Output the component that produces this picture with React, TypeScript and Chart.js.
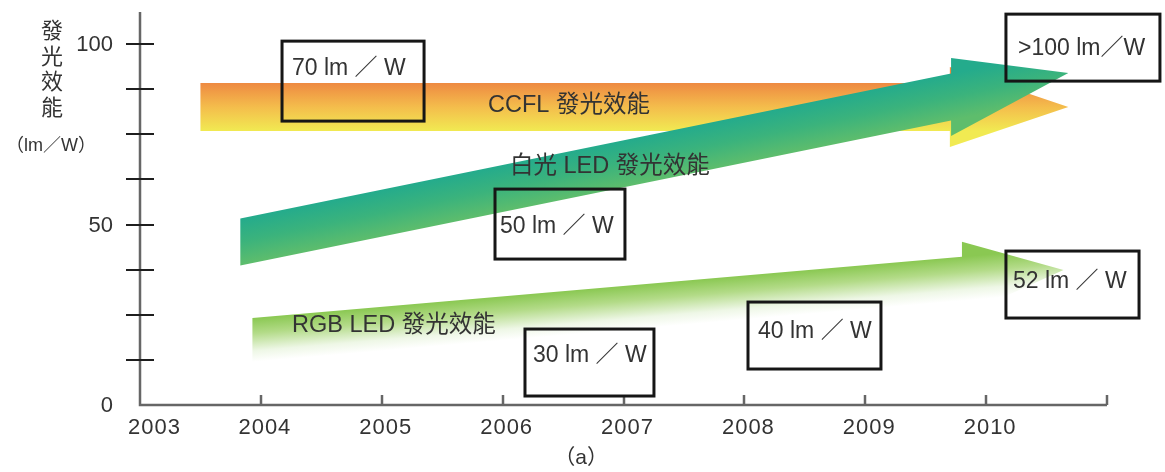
import { useEffect, useRef } from 'react';
import { Chart, registerables } from 'chart.js';

Chart.register(...registerables);

// Horizontal axis: years
const years = [2003, 2004, 2005, 2006, 2007, 2008, 2009, 2010, 2011];
const yearLabels = ['2003', '2004', '2005', '2006', '2007', '2008', '2009', '2010'];

// Vertical axis: luminous efficacy (lm/W)
const yLabelValues = [0, 50, 100];
const yTickValues = [12.5, 25, 37.5, 50, 62.5, 75, 87.5, 100];
const yTitleChars = ['發', '光', '效', '能'];
const yUnit = '（lm／W）';

// Trend arrows (CCFL, white LED, RGB LED)
const seriesNames = ['CCFL 發光效能', '白光 LED 發光效能', 'RGB LED 發光效能'];
const arrowStartYear = [2003.5, 2003.83, 2003.93];
const arrowTipYear = [2010.68, 2010.68, 2010.64];
const arrowHeadYear = [2009.7, 2009.71, 2009.8];
const arrowStartValue = [82.55, 45.15, 18.0];
const arrowTipValue = [82.55, 91.97, 37.4];

// Milestone call-outs (lm/W)
const milestoneText = ['70 lm ／ W', '50 lm ／ W', '30 lm ／ W', '40 lm ／ W', '52 lm ／ W', '>100 lm／W'];

// Arrow body thickness, as half-height in axis units
const arrowShaftHalf = [6.65, 6.5, 6.1];
const arrowHeadHalf = [11.08, 10.8, 10.25];
const arrowOrder = [3, 1, 2];
const arrowStops: [number, string][][] = [
  [[0, '#ee8a42'], [0.5, '#f4bd4c'], [1, '#f1ea52']],
  [[0, '#24ab8c'], [0.5, '#3bb37c'], [1, '#5ebd6c']],
  [[0, '#8ac852'], [0.35, '#b3db88'], [0.75, '#eef7e6'], [1, '#ffffff']],
];

// Call-out frames and label anchors, in axis units
const boxLeft = [2004.175, 2005.937, 2006.185, 2008.03, 2010.164, 2010.164];
const boxRight = [2005.35, 2007.012, 2007.252, 2009.13, 2011.265, 2011.438];
const boxTop = [100.83, 59.83, 21.05, 28.53, 42.66, 108.31];
const boxBottom = [78.67, 40.44, 2.49, 9.97, 24.1, 89.75];
const boxTextYear = [2004.257, 2005.978, 2006.251, 2008.113, 2010.222, 2010.264];
const boxTextValue = [93.35, 49.72, 13.99, 20.64, 34.35, 99.03];

// Series name anchors
const nameYear = [2005.879, 2006.061, 2004.257];
const nameValue = [83.38, 66.48, 22.3];

const FONT = '"Liberation Sans", "Noto Sans CJK TC", sans-serif';
const TEXT = '#333333';
const AXIS = '#666666';

function arrowPolygon(i: number) {
  const x0 = arrowStartYear[i];
  const x1 = arrowTipYear[i];
  const xb = arrowHeadYear[i];
  const v0 = arrowStartValue[i];
  const v1 = arrowTipValue[i];
  const cb = v0 + ((v1 - v0) * (xb - x0)) / (x1 - x0);
  const s = arrowShaftHalf[i];
  const h = arrowHeadHalf[i];
  return [
    { x: x0, y: v0 + s },
    { x: xb, y: cb + s },
    { x: xb, y: cb + h },
    { x: x1, y: v1 },
    { x: xb, y: cb - h },
    { x: xb, y: cb - s },
    { x: x0, y: v0 - s },
    { x: x0, y: v0 + s },
  ];
}

function arrowFill(chart: Chart, i: number) {
  const xs: any = chart.scales.x;
  const ys: any = chart.scales.y;
  if (!xs || !ys || !chart.chartArea) return arrowStops[i][0][1];
  const px0 = xs.getPixelForValue(arrowStartYear[i]);
  const py0 = ys.getPixelForValue(arrowStartValue[i]);
  const px1 = xs.getPixelForValue(arrowTipYear[i]);
  const py1 = ys.getPixelForValue(arrowTipValue[i]);
  const dx = px1 - px0;
  const dy = py1 - py0;
  const len = Math.hypot(dx, dy);
  const nx = -dy / len;
  const ny = dx / len;
  const mx = (px0 + px1) / 2;
  const my = (py0 + py1) / 2;
  const unit = ys.getPixelForValue(0) - ys.getPixelForValue(1);
  const half = (arrowShaftHalf[i] * unit * dx) / len;
  const g = chart.ctx.createLinearGradient(mx - nx * half, my - ny * half, mx + nx * half, my + ny * half);
  arrowStops[i].forEach(([o, c]) => g.addColorStop(o, c));
  return g;
}

const overlayPlugin = {
  id: 'efficacyOverlay',
  afterDraw(chart: Chart) {
    const ctx = chart.ctx;
    const xs: any = chart.scales.x;
    const ys: any = chart.scales.y;
    const X = (v: number) => xs.getPixelForValue(v);
    const Y = (v: number) => ys.getPixelForValue(v);
    const x0 = X(years[0]);
    const xEnd = X(years[years.length - 1]);
    const y0 = Y(0);
    const yTop = Y(ys.max);

    ctx.save();
    ctx.lineCap = 'butt';

    // axes
    ctx.strokeStyle = AXIS;
    ctx.lineWidth = 2.5;
    ctx.beginPath();
    ctx.moveTo(x0, yTop);
    ctx.lineTo(x0, y0);
    ctx.lineTo(xEnd, y0);
    ctx.stroke();

    // x tick marks
    years.slice(1).forEach((yr) => {
      const px = Math.round(X(yr));
      ctx.beginPath();
      ctx.moveTo(px, y0);
      ctx.lineTo(px, y0 - 10);
      ctx.stroke();
    });

    // y tick marks crossing the axis
    ctx.strokeStyle = '#1e1e1e';
    ctx.lineWidth = 2;
    yTickValues.forEach((v) => {
      const py = Math.round(Y(v));
      ctx.beginPath();
      ctx.moveTo(x0 - 14, py);
      ctx.lineTo(x0 + 14, py);
      ctx.stroke();
    });

    // y tick labels
    ctx.fillStyle = TEXT;
    ctx.font = `22px ${FONT}`;
    ctx.textAlign = 'right';
    ctx.textBaseline = 'middle';
    yLabelValues.forEach((v) => {
      ctx.fillText(String(v), x0 - 27, Y(v) + 1);
    });

    // x tick labels
    (ctx as any).letterSpacing = '1px';
    yearLabels.forEach((lab, i) => {
      const px = X(years[i]);
      if (i === 0) {
        ctx.textAlign = 'left';
        ctx.fillText(lab, px - 12, y0 + 23);
      } else {
        ctx.textAlign = 'center';
        ctx.fillText(lab, px + 4, y0 + 23);
      }
    });
    (ctx as any).letterSpacing = '0px';

    // y axis title
    ctx.textAlign = 'center';
    ctx.font = `22px ${FONT}`;
    yTitleChars.forEach((ch, i) => {
      ctx.fillText(ch, 52, 32 + i * 25.7);
    });
    ctx.font = `18px ${FONT}`;
    ctx.fillText(yUnit, 51, 146);

    // panel caption
    ctx.font = `21px ${FONT}`;
    ctx.fillText('（a）', X(2006.65), y0 + 53);

    // call-out frames
    ctx.strokeStyle = '#161616';
    ctx.lineWidth = 3;
    boxLeft.forEach((l, i) => {
      const left = X(l);
      const right = X(boxRight[i]);
      const top = Y(boxTop[i]);
      const bottom = Y(boxBottom[i]);
      ctx.strokeRect(left, top, right - left, bottom - top);
    });

    // call-out text
    ctx.fillStyle = TEXT;
    ctx.font = `23px ${FONT}`;
    ctx.textAlign = 'left';
    milestoneText.forEach((t, i) => {
      ctx.fillText(t, X(boxTextYear[i]), Y(boxTextValue[i]) + 1);
    });

    // series names
    ctx.font = `23.5px ${FONT}`;
    seriesNames.forEach((t, i) => {
      ctx.fillText(t, X(nameYear[i]), Y(nameValue[i]) + 1);
    });

    ctx.restore();
  },
};

export default function App() {
  const canvasRef = useRef<HTMLCanvasElement | null>(null);

  useEffect(() => {
    const canvas = canvasRef.current;
    if (!canvas) return;
    const chart = new Chart(canvas, {
      type: 'scatter',
      data: {
        datasets: seriesNames.map((name, i) => ({
          label: name,
          data: arrowPolygon(i),
          showLine: true,
          fill: 'shape',
          tension: 0,
          borderWidth: 0,
          borderColor: 'rgba(0,0,0,0)',
          pointRadius: 0,
          pointHoverRadius: 0,
          order: arrowOrder[i],
          backgroundColor: (c: any) => arrowFill(c.chart, i),
        })),
      },
      options: {
        animation: false,
        responsive: false,
        events: [],
        layout: { padding: { left: 140, right: 58, top: 12, bottom: 67 } },
        scales: {
          x: { type: 'linear', min: 2003, max: 2011, display: false },
          y: { type: 'linear', min: 0, max: 108.9, display: false },
        },
        plugins: {
          legend: { display: false },
          tooltip: { enabled: false },
        },
      } as any,
      plugins: [overlayPlugin],
    });
    return () => chart.destroy();
  }, []);

  return (
    <div style={{ position: 'absolute', left: 0, top: 0, width: 1165, height: 472, background: '#ffffff' }}>
      <canvas ref={canvasRef} width={1165} height={472} />
    </div>
  );
}
